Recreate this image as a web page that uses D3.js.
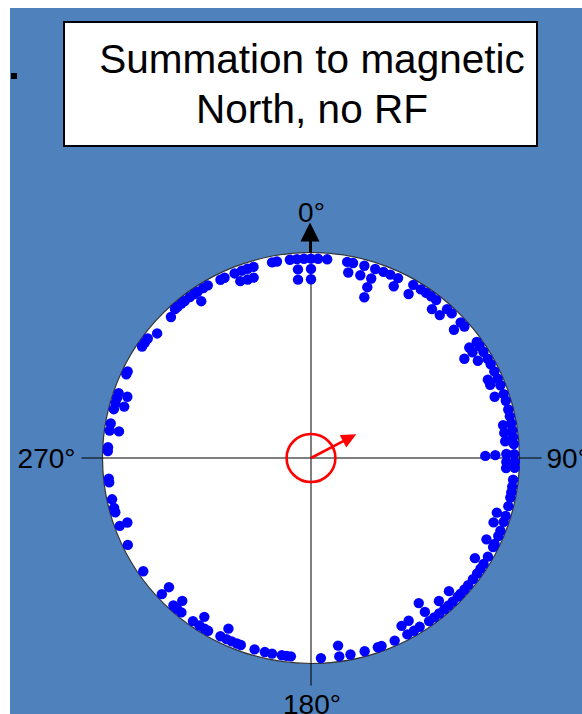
<!DOCTYPE html>
<html><head><meta charset="utf-8">
<script src="https://cdn.jsdelivr.net/npm/d3@7"></script>
<style>html,body{margin:0;padding:0;background:#fff;} svg{display:block;}</style>
</head><body>
<svg id="c" width="582" height="714"></svg>
<script>
// ---- data ----
const titleLines = ["Summation to magnetic", "North, no RF"];
const compassAngles = [0, 90, 180, 270];
const compassLabels = ["0°", "90°", "180°", "270°"];
// individual headings (degrees from magnetic North) and distance from centre (fraction of radius)
const dotBearing = [
  348.9,350.3,354,356,358,0,2,4.6,356.1,0,355.9,0,
  10.3,12,11.2,15.3,14.9,18.3,18,18.1,18.5,21,23.1,25.5,25.4,
  30.2,32.7,34.5,36.2,38,30.4,42,43.8,38.7,41.6,47.4,49,47.7,
  54.6,56,58,60.3,62.1,54.7,56.4,59.4,56.7,
  64.4,66.7,68.7,71.4,73.4,76,78,65.8,67.5,71.3,
  80.2,82.5,85,80,82,84,86,
  89.3,89.1,88.8,88.9,91.2,93,91.1,92.8,
  96.2,98.2,99.9,101.4,103.9,106.8,108.6,111.3,112.9,106.6,109.7,115.2,115.4,116.4,121.8,
  119.5,121.9,123.5,125.2,127.2,129.4,131,132.6,133.8,135.8,137.4,139,140.9,142.7,144.5,
  138.6,134.4,143.8,143.9,147.6,149.6,151.7,152,149.4,
  155.7,159.7,160.8,164.7,168.8,172,171.9,177.2,
  185.7,186.9,188.3,191.1,193.2,196.2,200.3,201.5,203.1,204.7,206.6,205.5,
  210.4,211.6,213.3,215.5,213.5,219.6,221.2,222.6,221.6,227.2,227.3,
  235.6,244.3,250.4,250.2,254.3,255.6,258.1,263,264.1,
  272,273.1,277.9,279.9,278,284.1,285.9,287.5,288.9,288.7,285.6,
  295.6,294.7,303.8,305.2,306.6,309.4,315.6,
  318,319,320.4,321.6,323.4,324.9,326.1,328,329.5,325.4,
  333.4,334.7,337.8,340,341.7,343.5,338.5,340.7,342.6
];
const dotDist = [
  .97,.97,.97,.97,.97,.97,.97,.97,.92,.92,.87,.87,
  .97,.97,.92,.97,.92,.92,.874,.823,.97,.97,.97,.97,.925,
  .975,.975,.975,.975,.975,.925,.975,.975,.928,.93,.975,.975,.927,
  .975,.975,.975,.975,.975,.93,.93,.93,.88,
  .975,.975,.975,.975,.975,.975,.975,.93,.93,.93,
  .935,.935,.935,.975,.975,.975,.975,
  .836,.884,.937,.975,.937,.937,.978,.978,
  .975,.975,.975,.975,.975,.975,.975,.975,.975,.93,.93,.93,.975,.975,.925,
  .975,.975,.975,.975,.975,.975,.975,.975,.975,.975,.975,.975,.975,.975,.975,
  .928,.926,.875,.927,.973,.975,.975,.925,.92,
  .975,.975,.975,.975,.975,.975,.922,.975,
  .97,.97,.97,.97,.97,.97,.97,.97,.97,.97,.97,.92,
  .975,.975,.975,.975,.927,.975,.975,.975,.93,.975,.927,
  .975,.975,.935,.975,.975,.975,.975,.975,.975,
  .975,.975,.975,.975,.93,.975,.975,.975,.975,.93,.93,
  .975,.975,.975,.975,.975,.955,.96,
  .975,.975,.975,.975,.975,.975,.975,.975,.975,.927,
  .97,.97,.97,.97,.97,.97,.925,.92,.92
];
const meanBearing = 62;      // mean vector direction
const meanLength = 0.246;    // mean vector length
const confRadius = 0.117;    // confidence circle radius

// ---- layout ----
const W = 582, H = 714;
const cx = 311, cy = 458, rx = 208.5, ry = 205.5;
const svg = d3.select("#c");
const x = d3.scaleLinear().domain([-1, 1]).range([cx - rx, cx + rx]);
const y = d3.scaleLinear().domain([-1, 1]).range([cy + ry, cy - ry]);
const rad = d => d * Math.PI / 180;
const px = (b, r) => x(r * Math.sin(rad(b)));
const py = (b, r) => y(r * Math.cos(rad(b)));

// background
svg.append("rect").attr("x", 0).attr("y", 0).attr("width", W).attr("height", H).attr("fill", "#ffffff");
svg.append("rect").attr("x", 10).attr("y", 8).attr("width", W - 10).attr("height", H - 8).attr("fill", "#4f81bd");
svg.append("rect").attr("x", 11).attr("y", 73).attr("width", 6).attr("height", 6).attr("fill", "#000");

// title box
svg.append("rect").attr("x", 64).attr("y", 22).attr("width", 473).attr("height", 124)
  .attr("fill", "#fff").attr("stroke", "#000").attr("stroke-width", 2);
svg.append("g").selectAll("text").data(titleLines).join("text")
  .attr("x", 312).attr("y", (d, i) => 73 + i * 50)
  .attr("text-anchor", "middle")
  .attr("font-family", "Liberation Sans, Arial, sans-serif")
  .attr("font-size", 40.5).attr("fill", "#000").text(d => d);

// circle
svg.append("ellipse").attr("cx", x(0)).attr("cy", y(0)).attr("rx", x(1) - x(0)).attr("ry", y(0) - y(1))
  .attr("fill", "#fff").attr("stroke", "#333").attr("stroke-width", 1.2);

// cross hairs
svg.append("line").attr("x1", x(-1) - 21).attr("x2", x(1) + 22).attr("y1", y(0)).attr("y2", y(0))
  .attr("stroke", "#000").attr("stroke-opacity", 0.5).attr("stroke-width", 2);
svg.append("line").attr("x1", x(0)).attr("x2", x(0)).attr("y1", y(1)).attr("y2", y(-1) + 22)
  .attr("stroke", "#000").attr("stroke-opacity", 0.5).attr("stroke-width", 2);

// north arrow
const nTop = y(1);
svg.append("line").attr("x1", x(0) - 0.5).attr("x2", x(0) - 0.5).attr("y1", nTop).attr("y2", nTop - 14)
  .attr("stroke", "#000").attr("stroke-width", 3);
svg.append("path")
  .attr("d", `M${x(0) - 1},${nTop - 30} L${x(0) - 10.5},${nTop - 11} L${x(0) + 8.5},${nTop - 11} Z`)
  .attr("fill", "#000");

// compass labels
const labelPos = {
  0:   {dx: 0.5, dy: -(ry + 31), anchor: "middle"},
  90:  {dx: rx + 27, dy: 10, anchor: "start"},
  180: {dx: 1, dy: ry + 50, anchor: "middle"},
  270: {dx: -(rx + 27), dy: 10, anchor: "end"}
};
svg.append("g").selectAll("text").data(compassAngles).join("text")
  .attr("x", d => cx + labelPos[d].dx)
  .attr("y", d => cy + labelPos[d].dy)
  .attr("text-anchor", d => labelPos[d].anchor)
  .attr("font-family", "Liberation Sans, Arial, sans-serif")
  .attr("font-size", 28).attr("fill", "#000")
  .text((d, i) => compassLabels[i]);

// dots
svg.append("g").selectAll("circle").data(dotBearing.map((b, i) => [b, dotDist[i]])).join("circle")
  .attr("cx", d => px(d[0], d[1])).attr("cy", d => py(d[0], d[1]))
  .attr("r", 5.2).attr("fill", "#0000ff");

// confidence circle
svg.append("ellipse").attr("cx", x(0)).attr("cy", y(0))
  .attr("rx", x(confRadius) - x(0)).attr("ry", y(0) - y(confRadius))
  .attr("fill", "none").attr("stroke", "#ff0000").attr("stroke-width", 2.6);

// mean vector
const tx = px(meanBearing, meanLength), ty = py(meanBearing, meanLength);
const ang = Math.atan2(ty - y(0), tx - x(0));
const hl = 15, hw = 7;
const bx = tx - hl * Math.cos(ang), by = ty - hl * Math.sin(ang);
svg.append("line").attr("x1", x(0)).attr("y1", y(0)).attr("x2", bx + 2 * Math.cos(ang)).attr("y2", by + 2 * Math.sin(ang))
  .attr("stroke", "#ff0000").attr("stroke-width", 2.6);
svg.append("path")
  .attr("d", `M${tx},${ty} L${bx - hw * Math.sin(ang)},${by + hw * Math.cos(ang)} L${bx + hw * Math.sin(ang)},${by - hw * Math.cos(ang)} Z`)
  .attr("fill", "#ff0000");
</script>
</body></html>
